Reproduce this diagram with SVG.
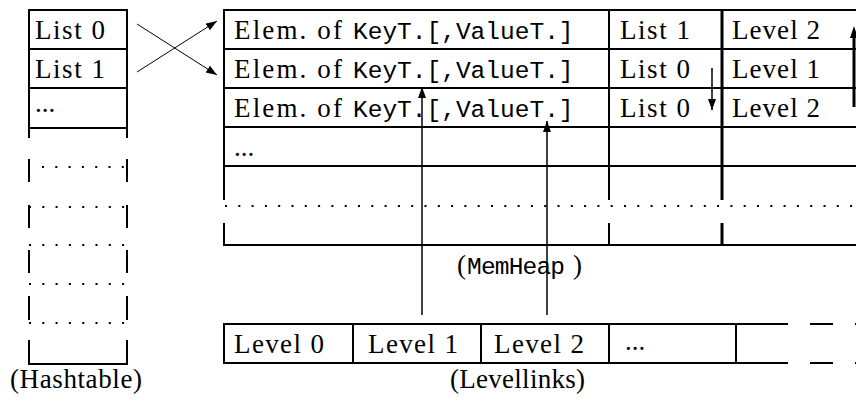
<svg xmlns="http://www.w3.org/2000/svg" width="856" height="401" viewBox="0 0 856 401">
<style>
.ln{stroke:#000;stroke-width:2;fill:none}
.thick{stroke:#000;stroke-width:3;fill:none}
.dot{stroke:#000;stroke-width:2;fill:none;stroke-dasharray:2 11.3}
.ar{stroke:#000;stroke-width:1;fill:none}
.ar2{stroke:#000;stroke-width:1.5;fill:none}
.rm{font-family:"Liberation Serif","Times New Roman",serif;font-size:27px;fill:#000}
.tt{font-family:"Liberation Mono","Courier New",monospace;font-size:24.5px;fill:#000}
</style>
<defs>
<marker id="ah" markerUnits="userSpaceOnUse" markerWidth="12" markerHeight="10" refX="11" refY="4" orient="auto">
<path d="M0,0 L11,4 L0,8 Z" fill="#000"/>
</marker>
</defs>

<g id="hashtable">
<line class="ln" x1="28" y1="10" x2="128" y2="10"/>
<line class="ln" x1="28" y1="49" x2="128" y2="49"/>
<line class="ln" x1="28" y1="88" x2="128" y2="88"/>
<line class="ln" x1="28" y1="128" x2="128" y2="128"/>
<line class="ln" x1="28" y1="364" x2="128" y2="364"/>
<path class="ln" d="M29,9V138M29,159V182M29,205V228M29,250V273M29,296V320M29,340V365"/>
<path class="ln" d="M127,9V138M127,159V182M127,205V228M127,250V273M127,296V320M127,340V365"/>
<line class="dot" x1="42" y1="167" x2="127" y2="167"/>
<line class="dot" x1="29" y1="207" x2="128" y2="207"/>
<line class="dot" x1="29" y1="245" x2="128" y2="245"/>
<line class="dot" x1="29" y1="284" x2="128" y2="284"/>
<line class="dot" x1="29" y1="323" x2="128" y2="323"/>
<text class="rm" x="35" y="39" textLength="70" lengthAdjust="spacing">List 0</text>
<text class="rm" x="35" y="78" textLength="70" lengthAdjust="spacing">List 1</text>
<text class="rm" x="35" y="112">...</text>
<text class="rm" x="10" y="388" textLength="132" lengthAdjust="spacing">(Hashtable)</text>
</g>

<g id="memheap">
<line class="ln" x1="223" y1="10" x2="856" y2="10"/>
<line class="ln" x1="223" y1="49" x2="856" y2="49"/>
<line class="ln" x1="223" y1="88" x2="856" y2="88"/>
<line class="ln" x1="223" y1="127" x2="856" y2="127"/>
<line class="ln" x1="223" y1="166" x2="856" y2="166"/>
<line class="ln" x1="223" y1="245" x2="856" y2="245"/>
<line class="dot" x1="225" y1="206" x2="856" y2="206"/>
<path class="ln" d="M224,9V200M224,223V246M609,9V200M609,223V246"/>
<path class="thick" d="M722,9V200M722,223V246"/>
<text x="234" y="39"><tspan class="rm" textLength="108" lengthAdjust="spacing">Elem. of</tspan><tspan class="tt" x="353">KeyT.[,ValueT.]</tspan></text>
<text x="234" y="78"><tspan class="rm" textLength="108" lengthAdjust="spacing">Elem. of</tspan><tspan class="tt" x="353">KeyT.[,ValueT.]</tspan></text>
<text x="234" y="117"><tspan class="rm" textLength="108" lengthAdjust="spacing">Elem. of</tspan><tspan class="tt" x="353">KeyT.[,ValueT.]</tspan></text>
<text class="rm" x="234" y="156">...</text>
<text class="rm" x="620" y="39" textLength="70" lengthAdjust="spacing">List 1</text>
<text class="rm" x="620" y="78" textLength="70" lengthAdjust="spacing">List 0</text>
<text class="rm" x="620" y="117" textLength="70" lengthAdjust="spacing">List 0</text>
<text class="rm" x="732" y="39" textLength="88" lengthAdjust="spacing">Level 2</text>
<text class="rm" x="732" y="78" textLength="88" lengthAdjust="spacing">Level 1</text>
<text class="rm" x="732" y="117" textLength="88" lengthAdjust="spacing">Level 2</text>
<text x="457" y="274"><tspan class="rm">(</tspan><tspan class="tt" x="467" textLength="98" lengthAdjust="spacing">MemHeap</tspan><tspan class="rm" x="573">)</tspan></text>
</g>

<g id="levellinks">
<line class="ln" x1="223" y1="324" x2="788" y2="324"/>
<line class="ln" x1="223" y1="363" x2="788" y2="363"/>
<path class="ln" d="M810,324H833M810,363H833M855,324H856M855,363H856"/>
<path class="ln" d="M224,323V364M353,323V364M481,323V364M609,323V364M736,323V364"/>
<text class="rm" x="234" y="353" textLength="90" lengthAdjust="spacing">Level 0</text>
<text class="rm" x="368" y="353" textLength="90" lengthAdjust="spacing">Level 1</text>
<text class="rm" x="494" y="353" textLength="90" lengthAdjust="spacing">Level 2</text>
<text class="rm" x="625" y="350">...</text>
<text class="rm" x="450" y="388" textLength="135" lengthAdjust="spacing">(Levellinks)</text>
</g>

<g id="connectors">
<line class="ar" x1="137" y1="24" x2="217" y2="75" marker-end="url(#ah)"/>
<line class="ar" x1="137" y1="72" x2="217" y2="21" marker-end="url(#ah)"/>
<line class="ar2" x1="422" y1="315" x2="422" y2="87" marker-end="url(#ah)"/>
<line class="ar2" x1="547" y1="315" x2="547" y2="121" marker-end="url(#ah)"/>
<line class="ar2" x1="712" y1="68" x2="712" y2="110" marker-end="url(#ah)"/>
<line class="thick" x1="854" y1="107" x2="854" y2="36"/>
<path d="M850,38 L854,26 L858,38 Z" fill="#000"/>
</g>
</svg>
